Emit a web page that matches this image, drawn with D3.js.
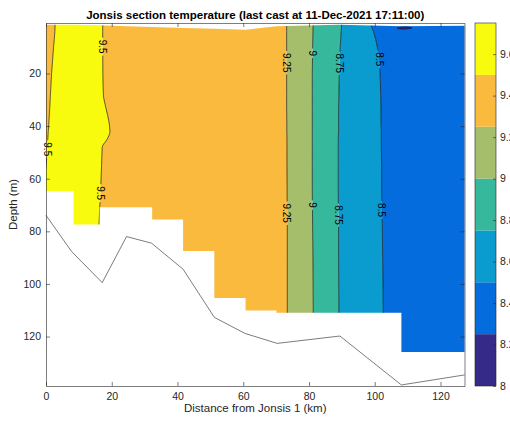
<!DOCTYPE html>
<html>
<head>
<meta charset="utf-8">
<script src="https://cdn.jsdelivr.net/npm/d3@7"></script>
<style>
  body { margin: 0; background: #fff; }
  svg { display: block; font-family: "Liberation Sans", Arial, sans-serif; }
</style>
</head>
<body>
<svg width="510" height="423"></svg>
<script>
// contour levels and their colours (parula, 7 bands)
const levels = [8, 8.25, 8.5, 8.75, 9, 9.25, 9.5, 9.75];
const levelColors = ["#352A87", "#056CDD", "#0A9CCF", "#36B89D", "#A5BE6B", "#F9BA3E", "#F9FB0E"];

// isotherm positions (km) (m)
const isoDepth  = [0, 4, 10, 20, 28, 33, 38, 42, 45, 48, 55, 65, 78, 90, 112, 140];
const iso95West = [2.8, 2.7, 2.3, 1.7, 1.35, 1.15, 0.9, 0.7, 0.55, 0.4, 0.05, -1, -1, -1, -1, -1];
const iso95East = [17.25, 17.25, 17.25, 17.3, 17.45, 18.2, 19.1, 19.45, 18.6, 17.1, 16.9, 16.6, 16.1, 16.0, 16.0, 16.0];
const iso925    = [73.2, 73.2, 73.2, 73.2, 73.2, 73.2, 73.25, 73.25, 73.3, 73.3, 73.3, 73.35, 73.4, 73.4, 73.4, 73.4];
const iso90     = [81.3, 81.2, 81.1, 81.0, 81.0, 81.0, 81.0, 81.0, 81.0, 81.0, 81.0, 81.0, 81.1, 81.2, 81.3, 81.3];
const iso875    = [90.0, 89.8, 89.5, 89.2, 89.1, 89.0, 89.0, 89.0, 88.9, 88.9, 88.9, 88.9, 89.0, 89.0, 89.1, 89.1];
const iso85     = [98.3, 99.6, 100.8, 101.6, 101.8, 101.9, 101.9, 102.0, 102.0, 102.0, 102.1, 102.1, 102.3, 102.4, 102.6, 102.6];

// band mean temperature between consecutive isotherms (west -> east)
const bandTemp = [9.4, 9.6, 9.4, 9.1, 8.9, 8.6, 8.4];

// small cold lens (8.25 isotherm) near the surface
const lensKm    = [106.8, 108, 109.6, 111.3, 109.6, 108];
const lensDepth = [2.7, 2.35, 2.25, 2.6, 3.05, 3.1];

// casts: position, shallowest and deepest sample
const castKm    = [0, 8.4, 16.3, 24.5, 32.3, 41.7, 51.2, 60.7, 70.1, 89.2, 108.1, 127.3];
const castTop   = [1.5, 1.5, 1.7, 2.0, 2.3, 2.7, 3.0, 3.4, 2.0, 1.5, 2.0, 1.8];
const castDepth = [64.7, 77.4, 77.4, 70.8, 75.5, 87.5, 105.3, 110.1, 111.0, 111.0, 125.9, 125.9];

// bottom depth along the section
const bottomKm    = [0, 7.8, 17.1, 24.5, 32.1, 41.7, 51.2, 60.5, 70.3, 89.4, 108.1, 127.3];
const bottomDepth = [73.9, 87.7, 99.5, 82.0, 84.5, 94.4, 112.7, 118.8, 122.6, 119.8, 138.4, 134.6];

// contour labels
const labelText  = ["9.5", "9.5", "9.5", "9.25", "9.25", "9", "9", "8.75", "8.75", "8.5", "8.5"];
const labelKm    = [17.25, 0.5, 16.6, 73.2, 73.3, 81.05, 81.0, 89.3, 88.95, 101.3, 102.2];
const labelDepth = [9.8, 48.8, 65.5, 15.9, 73.1, 12.3, 70.0, 16.1, 73.8, 14.6, 71.9];

const xTicks = [0, 20, 40, 60, 80, 100, 120];
const yTicks = [20, 40, 60, 80, 100, 120];
const cTicks = [8, 8.2, 8.4, 8.6, 8.8, 9, 9.2, 9.4, 9.6];

const svg = d3.select("svg");
const width = +svg.attr("width");
const height = +svg.attr("height");

const margin = { top: 23, right: 45.5, bottom: 37, left: 46 };
const innerWidth = width - margin.left - margin.right;
const innerHeight = height - margin.top - margin.bottom;
const axisColor = "#262626";

const x = d3.scaleLinear().domain([0, 127.3]).range([0, innerWidth]);
const y = d3.scaleLinear().domain([0.8, 138.8]).range([0, innerHeight]);
const color = d3.scaleThreshold().domain(levels.slice(1, -1)).range(levelColors);

const defs = svg.append("defs");
const g = svg.append("g").attr("transform", `translate(${margin.left},${margin.top})`);

// region actually sampled by the casts (white below the deepest sample)
const outline = castKm.map((k, i) => [k, castTop[i]]);
for (let i = castKm.length - 1; i > 0; i--) {
    const b = Math.min(castDepth[i], castDepth[i - 1]);
    outline.push([castKm[i], b], [castKm[i - 1], b]);
}
const polyLine = d3.line().x(d => x(d[0])).y(d => y(d[1]));
defs.append("clipPath").attr("id", "casts")
    .append("path").attr("d", polyLine(outline) + "Z");

// filled bands
const edges = [null, iso95West, iso95East, iso925, iso90, iso875, iso85, null];
const band = d3.area()
    .y(d => y(d.depth))
    .x0(d => x(d.west))
    .x1(d => x(d.east))
    .curve(d3.curveMonotoneY);

const fills = g.append("g").attr("clip-path", "url(#casts)");
bandTemp.forEach((t, i) => {
    const west = edges[i], east = edges[i + 1];
    const rows = isoDepth.map((dep, k) => ({
        depth: dep,
        west: west ? west[k] : x.domain()[0] - 2,
        east: east ? east[k] : x.domain()[1] + 2
    }));
    fills.append("path").attr("d", band(rows)).attr("fill", color(t));
});

const lensLine = d3.line()
    .x(d => x(d[0])).y(d => y(d[1]))
    .curve(d3.curveCardinalClosed);
const lens = lensKm.map((k, i) => [k, lensDepth[i]]);
fills.append("path").attr("d", lensLine(lens))
    .attr("fill", color(8.1)).attr("stroke", "#000").attr("stroke-width", 0.5);

// isotherm lines with gaps at the labels
const gapMask = defs.append("mask").attr("id", "gaps")
    .attr("maskUnits", "userSpaceOnUse")
    .attr("x", -10).attr("y", -10)
    .attr("width", innerWidth + 20).attr("height", innerHeight + 20);
gapMask.append("rect")
    .attr("x", -10).attr("y", -10)
    .attr("width", innerWidth + 20).attr("height", innerHeight + 20)
    .attr("fill", "#fff");

const isoLine = d3.line()
    .x(d => x(d))
    .y((d, k) => y(isoDepth[k]))
    .curve(d3.curveMonotoneY);

const lines = g.append("g").attr("clip-path", "url(#casts)")
    .append("g").attr("mask", "url(#gaps)");
[iso95West, iso95East, iso925, iso90, iso875, iso85].forEach(iso => {
    lines.append("path").attr("d", isoLine(iso))
        .attr("fill", "none").attr("stroke", "#000").attr("stroke-width", 0.6);
});

const labels = g.append("g");
labelText.forEach((txt, i) => {
    const lx = x(labelKm[i]), ly = y(labelDepth[i]);
    const t = labels.append("text")
        .attr("transform", `translate(${lx},${ly}) rotate(90)`)
        .attr("text-anchor", "middle")
        .attr("dy", "0.35em")
        .attr("font-size", 10)
        .attr("fill", "#000")
        .text(txt);
    const len = t.node().getComputedTextLength();
    gapMask.append("rect")
        .attr("x", lx - 4).attr("y", ly - len / 2 - 2)
        .attr("width", 8).attr("height", len + 4)
        .attr("fill", "#000");
});

// sea floor
g.append("path")
    .attr("d", polyLine(bottomKm.map((k, i) => [k, bottomDepth[i]])))
    .attr("fill", "none").attr("stroke", "#444").attr("stroke-width", 0.7);

// axes, ticks pointing inwards on all four sides
const styleAxis = sel => {
    sel.selectAll(".domain, .tick line").attr("stroke", axisColor).attr("stroke-width", 0.6);
    sel.selectAll("text").attr("fill", axisColor).attr("font-size", 10.5);
    sel.attr("font-family", null);
};
g.append("g").attr("transform", `translate(0,${innerHeight})`)
    .call(d3.axisBottom(x).tickValues(xTicks).tickSizeInner(-4).tickSizeOuter(0).tickPadding(7))
    .call(styleAxis);
g.append("g")
    .call(d3.axisTop(x).tickValues(xTicks).tickSizeInner(-4).tickSizeOuter(0).tickFormat(""))
    .call(styleAxis);
g.append("g")
    .call(d3.axisLeft(y).tickValues(yTicks).tickSizeInner(-4).tickSizeOuter(0).tickPadding(5))
    .call(styleAxis);
g.append("g").attr("transform", `translate(${innerWidth},0)`)
    .call(d3.axisRight(y).tickValues(yTicks).tickSizeInner(-4).tickSizeOuter(0).tickFormat(""))
    .call(styleAxis);

// colour bar
const cbar = { left: 475, width: 21 };
const cScale = d3.scaleLinear().domain([levels[0], levels[levels.length - 1]]).range([innerHeight, 0]);
const cb = g.append("g").attr("transform", `translate(${cbar.left - margin.left},0)`);
cb.selectAll("rect.level").data(d3.pairs(levels))
    .enter().append("rect")
        .attr("class", "level")
        .attr("x", 0)
        .attr("y", d => cScale(d[1]))
        .attr("width", cbar.width)
        .attr("height", d => cScale(d[0]) - cScale(d[1]))
        .attr("fill", d => color((d[0] + d[1]) / 2));
cb.append("rect")
    .attr("width", cbar.width).attr("height", innerHeight)
    .attr("fill", "none").attr("stroke", axisColor).attr("stroke-width", 0.6);
cb.append("g").attr("transform", `translate(${cbar.width},0)`)
    .call(d3.axisRight(cScale).tickValues(cTicks).tickSizeInner(-3).tickSizeOuter(0).tickPadding(4)
        .tickFormat(d => +d.toFixed(1)))
    .call(styleAxis)
    .call(a => a.select(".domain").remove());

// titles
svg.append("text")
    .attr("x", margin.left + innerWidth / 2).attr("y", 19)
    .attr("text-anchor", "middle")
    .attr("font-size", 11.5).attr("font-weight", "bold").attr("fill", "#000")
    .text("Jonsis section temperature (last cast at 11-Dec-2021 17:11:00)");
svg.append("text")
    .attr("x", margin.left + innerWidth / 2).attr("y", 412)
    .attr("text-anchor", "middle")
    .attr("font-size", 11.5).attr("fill", axisColor)
    .text("Distance from Jonsis 1 (km)");
svg.append("text")
    .attr("transform", `translate(17,${margin.top + innerHeight / 2}) rotate(-90)`)
    .attr("text-anchor", "middle")
    .attr("font-size", 11.5).attr("fill", axisColor)
    .text("Depth (m)");
</script>
</body>
</html>
